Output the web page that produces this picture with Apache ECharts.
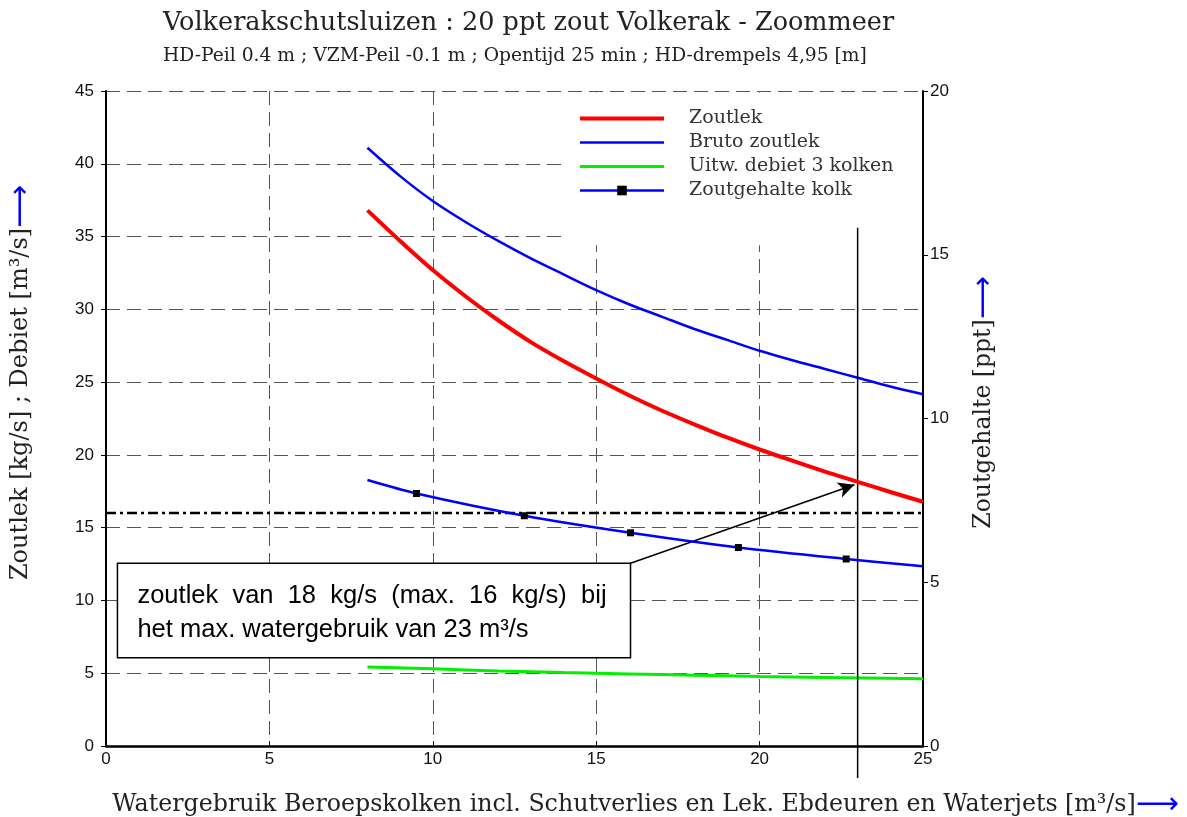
<!DOCTYPE html>
<html>
<head>
<meta charset="utf-8">
<script src="https://cdn.jsdelivr.net/npm/echarts@6/dist/echarts.min.js"></script>
<style>
  html, body { margin: 0; background: #fff; }
  #chart { width: 1187px; height: 817px; }
</style>
</head>
<body>
<div id="chart"></div>
<script>
// waarden
var zoutlekX = [8, 9, 10, 11, 12, 13, 14, 15, 16, 17, 18, 19, 20, 21, 22, 23, 24, 25];
var zoutlek = [36.8, 34.7, 32.7, 30.9, 29.25, 27.75, 26.45, 25.25, 24.1, 23.05, 22.1, 21.2, 20.37, 19.6, 18.85, 18.15, 17.45, 16.78];
var brutoZoutlek = [41.1, 39.15, 37.44, 36.0, 34.7, 33.5, 32.4, 31.32, 30.35, 29.5, 28.65, 27.9, 27.15, 26.5, 25.9, 25.3, 24.7, 24.17];
var debietX = [8, 10, 12, 14, 16, 18, 20, 22, 25];
var debiet = [5.42, 5.3, 5.16, 5.05, 4.95, 4.86, 4.78, 4.71, 4.62];
var kolkX = [8, 9.5, 12.8, 16.05, 19.35, 22.65, 25];
var kolk = [8.12, 7.71, 7.03, 6.51, 6.06, 5.71, 5.49];
var maxZoutlek = 16;
var maxWatergebruik = 23;
var xTicks = [0, 25, 5];
var leftTicks = [0, 45, 5];
var rightTicks = [0, 20, 5];

var serif = 'DejaVu Serif';
var sans = 'Liberation Sans';

function pts(xs, ys) {
    return xs.map(function (x, i) { return [x, ys[i]]; });
}

var kolkData = pts(kolkX, kolk).map(function (p, i) {
    var last = i === 0 || i === kolkX.length - 1;
    return last ? { value: p, symbol: 'none' } : { value: p };
});

var gridLine = { show: true, lineStyle: { color: '#555', width: 1, type: [14, 7] } };
var arrowRich = { a: { color: '#0000ff', fontSize: 30, fontFamily: 'DejaVu Sans' } };
var noSymbol = { opacity: 0 };

var chart = echarts.init(document.getElementById('chart'));
var option = {
    backgroundColor: '#fff',
    animation: false,
    title: {
        text: 'Volkerakschutsluizen : 20 ppt zout Volkerak - Zoommeer',
        subtext: 'HD-Peil 0.4 m ; VZM-Peil -0.1 m ; Opentijd 25 min ; HD-drempels 4,95 [m]',
        left: 158,
        top: 5,
        itemGap: 11,
        textStyle: { fontFamily: serif, fontSize: 25.5, fontWeight: 'normal', color: '#222' },
        subtextStyle: { fontFamily: serif, fontSize: 18.7, color: '#222' }
    },
    legend: {
        data: [
            { name: 'Zoutlek', itemStyle: noSymbol, lineStyle: { width: 4 } },
            { name: 'Bruto zoutlek', itemStyle: noSymbol, lineStyle: { width: 2.5 } },
            { name: 'Uitw. debiet 3 kolken', itemStyle: noSymbol, lineStyle: { width: 3 } },
            { name: 'Zoutgehalte kolk', lineStyle: { width: 2.5 } }
        ],
        orient: 'vertical',
        left: 578,
        top: 109,
        itemWidth: 84,
        itemHeight: 12,
        itemGap: 5,
        padding: 0,
        textStyle: { fontFamily: serif, fontSize: 19, color: '#333', padding: [0, 0, 0, 20] }
    },
    grid: { left: 106, top: 91, width: 817, height: 655, outerBoundsMode: 'none' },
    xAxis: {
        type: 'value',
        min: xTicks[0], max: xTicks[1], interval: xTicks[2],
        name: 'Watergebruik Beroepskolken incl. Schutverlies en Lek. Ebdeuren en Waterjets [m³/s]{a|⟶}',
        nameLocation: 'middle',
        nameGap: 44,
        nameTextStyle: {
            fontFamily: serif, fontSize: 23.7, color: '#222', padding: [0, 0, 0, 262],
            rich: arrowRich
        },
        axisLine: { lineStyle: { color: '#000', width: 2.5 } },
        axisTick: { inside: true, length: 5, lineStyle: { color: '#000' } },
        axisLabel: { fontFamily: sans, fontSize: 17, color: '#111', margin: 5 },
        splitLine: gridLine
    },
    yAxis: [{
        type: 'value',
        min: leftTicks[0], max: leftTicks[1], interval: leftTicks[2],
        name: 'Zoutlek [kg/s] ; Debiet [m³/s]{a|⟶}',
        nameLocation: 'middle',
        nameRotate: 90,
        nameGap: 70,
        nameTextStyle: {
            fontFamily: serif, fontSize: 24, color: '#222', padding: [0, 0, 0, 72],
            rich: arrowRich
        },
        axisLine: { show: true, lineStyle: { color: '#000', width: 2 } },
        axisTick: { show: true, length: 5, lineStyle: { color: '#000' } },
        axisLabel: { fontFamily: sans, fontSize: 17, color: '#111', margin: 12 },
        splitLine: gridLine
    }, {
        type: 'value',
        position: 'right',
        min: rightTicks[0], max: rightTicks[1], interval: rightTicks[2],
        name: 'Zoutgehalte [ppt]{a|⟶}',
        nameLocation: 'middle',
        nameRotate: 90,
        nameGap: 46,
        nameTextStyle: {
            fontFamily: serif, fontSize: 23.5, color: '#222', padding: [0, 0, 0, 32],
            rich: arrowRich
        },
        axisLine: { show: true, lineStyle: { color: '#000', width: 2 } },
        axisTick: { show: true, length: 5, lineStyle: { color: '#000' } },
        axisLabel: { fontFamily: sans, fontSize: 17, color: '#111', margin: 7 },
        splitLine: { show: false }
    }],
    series: [{
        name: 'Zoutlek',
        type: 'line',
        data: pts(zoutlekX, zoutlek),
        smooth: 0.3,
        symbol: 'none',
        itemStyle: { color: '#ff0000' },
        lineStyle: { color: '#ff0000', width: 4 },
        z: 4
    }, {
        name: 'Bruto zoutlek',
        type: 'line',
        data: pts(zoutlekX, brutoZoutlek),
        smooth: 0.3,
        symbol: 'none',
        itemStyle: { color: '#0000ff' },
        lineStyle: { color: '#0000ff', width: 2.5 }
    }, {
        name: 'Uitw. debiet 3 kolken',
        type: 'line',
        data: pts(debietX, debiet),
        smooth: 0.3,
        symbol: 'none',
        itemStyle: { color: '#00f000' },
        lineStyle: { color: '#00f000', width: 3 }
    }, {
        name: 'Zoutgehalte kolk',
        type: 'line',
        yAxisIndex: 1,
        data: kolkData,
        smooth: 0.3,
        symbol: 'rect',
        symbolSize: 7,
        showAllSymbol: true,
        itemStyle: { color: '#000' },
        lineStyle: { color: '#0000ff', width: 2.5 },
        z: 5
    }, {
        name: 'max zoutlek',
        type: 'line',
        data: [[xTicks[0], maxZoutlek], [xTicks[1], maxZoutlek]],
        symbol: 'none',
        silent: true,
        lineStyle: { color: '#000', width: 2.5, type: [10, 4, 3, 4] },
        z: 3
    }, {
        name: 'max watergebruik',
        type: 'line',
        data: [[maxWatergebruik, 35.6], [maxWatergebruik, -2.2]],
        symbol: 'none',
        clip: false,
        silent: true,
        lineStyle: { color: '#000', width: 1.5 },
        z: 3,
        markLine: {
            silent: true,
            symbol: ['none', 'arrow'],
            symbolSize: [12, 16],
            label: { show: false },
            lineStyle: { color: '#000', width: 1.5, type: 'solid' },
            data: [[{ coord: [16.05, 12.56] }, { coord: [22.9, 17.95] }]]
        }
    }]
};
chart.setOption(option);

// wit vlak achter de legenda en het tekstkader, vanuit datacoördinaten
var finder = { xAxisIndex: 0, yAxisIndex: 0 };
var m1 = chart.convertToPixel(finder, [14.1, 44.9]);
var m2 = chart.convertToPixel(finder, [24.95, 34.4]);
var b1 = chart.convertToPixel(finder, [0.35, 12.56]);
var b2 = chart.convertToPixel(finder, [16.05, 6.06]);

chart.setOption({
    graphic: [{
        type: 'rect',
        z: 1,
        silent: true,
        shape: { x: m1[0], y: m1[1], width: m2[0] - m1[0], height: m2[1] - m1[1] },
        style: { fill: '#fff' }
    }, {
        type: 'rect',
        z: 10,
        silent: true,
        shape: { x: b1[0], y: b1[1], width: b2[0] - b1[0], height: b2[1] - b1[1] },
        style: { fill: '#fff', stroke: '#000', lineWidth: 1.5 }
    }, {
        type: 'text',
        z: 11,
        silent: true,
        left: b1[0] + 20,
        top: b1[1] + 16,
        style: {
            text: 'zoutlek  van  18  kg/s  (max.  16  kg/s)  bij\nhet max. watergebruik van 23 m³/s',
            fontFamily: 'Liberation Sans',
            fontSize: 25.5,
            lineHeight: 34,
            fill: '#000'
        }
    }]
});
</script>
</body>
</html>
